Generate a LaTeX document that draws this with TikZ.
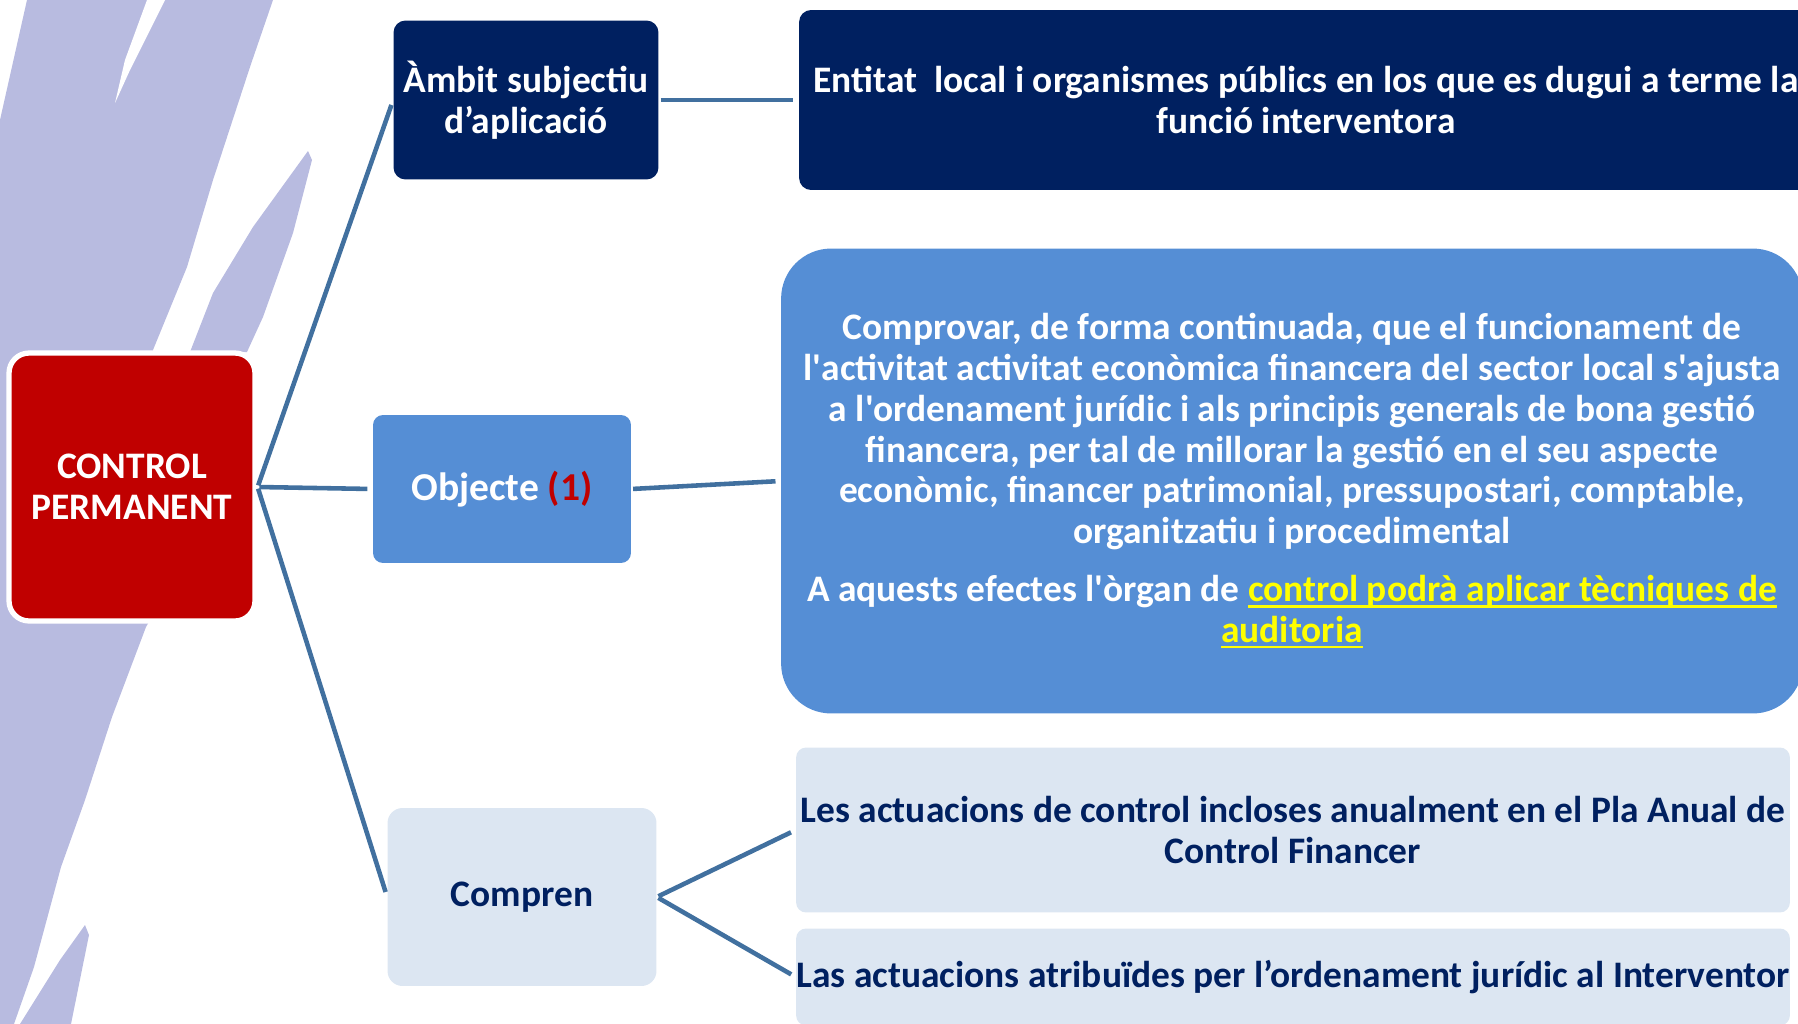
\documentclass[tikz,border=0pt]{standalone}
\usepackage{fontspec}
\setmainfont{Carlito}
\definecolor{navy}{HTML}{002060}
\definecolor{midblue}{HTML}{558ED5}
\definecolor{paleblue}{HTML}{DCE6F2}
\definecolor{darkred}{HTML}{C00000}
\definecolor{lavender}{HTML}{B8BBE0}
\definecolor{linkblue}{HTML}{41709F}
\definecolor{ylw}{HTML}{FFFF00}
\newcommand{\yline}[1]{\setbox0\hbox{#1}\rlap{\rule[-3.5pt]{\wd0}{1.6pt}}\box0}
\begin{document}
\begin{tikzpicture}[x=0.02cm, y=-0.02cm,
	box/.style={rectangle, align=center, inner sep=0pt, text=white,
		font=\fontsize{21.3}{23.2}\selectfont\bfseries},
	link/.style={draw=linkblue, line width=2.6pt, shorten >=3pt, shorten <=1pt}]
	\clip (0,0) rectangle (1798,1024);

	% background strokes
	\fill[lavender] (27,0) -- (273,0) -- (250,67) -- (213,180) -- (187,267) -- (153,350) -- (150,620)
		-- (146,627) -- (112,717) -- (85,800) -- (61,867) -- (34,967) -- (14,1024) -- (0,1024) -- (0,120) -- cycle;
	\fill[white] (147,0) -- (165,0) -- (130,70) -- (115,103) -- (125,60) -- cycle;
	\fill[lavender] (308,151) -- (312,160) -- (293,233) -- (263,317) -- (247,352) -- (190,352) -- (213,293) -- (253,227) -- cycle;
	\fill[lavender] (85,925) -- (89,935) -- (71,1024) -- (20,1024) -- (60,960) -- cycle;

	\node[box, fill=darkred, draw=white, line width=3pt, rounded corners=0.4cm,
		minimum width=4.92cm, minimum height=5.36cm] (control) at (132,487) {CONTROL\\PERMANENT};

	\node[box, fill=navy, rounded corners=0.24cm, minimum width=5.3cm, minimum height=3.18cm] (ambit) at (526,100) {Àmbit subjectiu\\d’aplicació};
	\node[box, fill=navy, rounded corners=0.24cm, minimum width=20.28cm, minimum height=3.6cm] (entitat) at (1306,100) {Entitat\ \ local i organismes públics en los que es dugui a terme la\\funció interventora};

	\node[box, fill=midblue, rounded corners=0.2cm, minimum width=5.16cm, minimum height=2.96cm,
		font=\fontsize{22.5}{24}\selectfont\bfseries] (objecte) at (502,489) {Objecte {\color{darkred}(1)}};
	\node[box, fill=midblue, rounded corners=1cm, minimum width=20.44cm, minimum height=9.3cm] (finalitat) at (1292,481) {Comprovar, de forma continuada, que el funcionament de\\
		l\textquotesingle activitat activitat econòmica financera del sector local s\textquotesingle ajusta\\
		a l\textquotesingle ordenament jurídic i als principis generals de bona gestió\\
		financera, per tal de millorar la gestió en el seu aspecte\\
		econòmic, financer patrimonial, pressupostari, comptable,\\
		organitzatiu i procedimental\\[9.7pt]
		A aquests efectes l\textquotesingle òrgan de {\color{ylw}\yline{control podrà aplicar tècniques de}}\\
		{\color{ylw}\yline{auditoria}}};

	\node[box, fill=paleblue, text=navy, rounded corners=0.3cm, minimum width=5.38cm, minimum height=3.56cm] (compren) at (522,897) {Compren};
	\node[box, fill=paleblue, text=navy, rounded corners=0.2cm, minimum width=19.88cm, minimum height=3.3cm] (anual) at (1293,830) {Les actuacions de control incloses anualment en el Pla Anual de\\Control Financer};
	\node[box, fill=paleblue, text=navy, rounded corners=0.2cm, minimum width=19.88cm, minimum height=1.94cm] (atribuides) at (1293,977) {Las actuacions atribuïdes per l’ordenament jurídic al Interventor};

	\path [link] (control.east) edge (ambit.west);
	\path [link] (control.east) edge (objecte.west);
	\path [link] (control.east) edge (compren.west);
	\path [link] (ambit.east) edge (entitat.west);
	\path [link] (objecte.east) edge (finalitat.west);
	\path [link] (compren.east) edge (anual.west);
	\path [link] (compren.east) edge (atribuides.west);
\end{tikzpicture}
\end{document}
